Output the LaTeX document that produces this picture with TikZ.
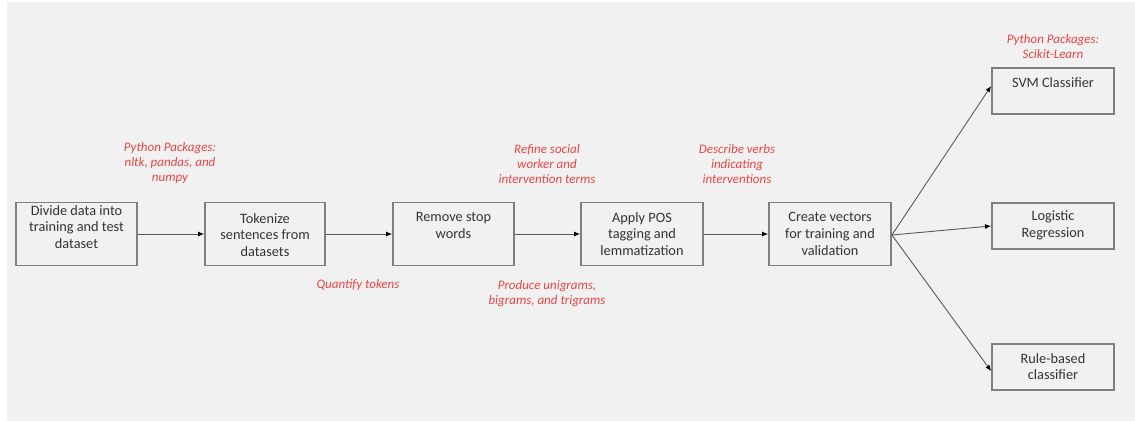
\documentclass[tikz,border=0pt]{standalone}
\usepackage{fontspec}
\setmainfont{Carlito}
\usetikzlibrary{arrows.meta}
\definecolor{bgc}{HTML}{F1F1F1}
\definecolor{boxc}{HTML}{7F7F7F}
\definecolor{linec}{HTML}{595959}
\definecolor{redc}{HTML}{E84545}
\tikzset{
  box/.style={draw=boxc, line width=1.8pt, fill=bgc, inner sep=0pt},
  boxtext/.style={align=center, font=\fontsize{14.3}{16.8}\selectfont, text=black!80, inner sep=0pt},
  note/.style={align=center, font=\fontsize{13}{15}\selectfont\itshape, text=redc, inner sep=0pt},
  conn/.style={draw=linec, line width=0.9pt, -{Latex[length=6pt,width=5pt,color=black]}}
}
\begin{document}
\begin{tikzpicture}[x=1pt,y=-1pt]
\useasboundingbox (0,0) rectangle (1135,421);
\fill[bgc] (7,2) rectangle (1135,421);
% boxes
\node[box, minimum width=121, minimum height=63] (b1) at (76.5,234) {};
\node[box, minimum width=120, minimum height=63] (b2) at (265,234) {};
\node[box, minimum width=121, minimum height=63] (b3) at (453.5,234) {};
\node[box, minimum width=122, minimum height=63] (b4) at (642,234) {};
\node[box, minimum width=122, minimum height=63] (b5) at (830,234) {};
\node[box, minimum width=122, minimum height=46] (svm) at (1053,91) {};
\node[box, minimum width=122, minimum height=46] (lr) at (1053,226) {};
\node[box, minimum width=122, minimum height=46] (rb) at (1053,367) {};
% box texts
\node[boxtext] (t1) at (76.5,227) {Divide data into\\training and test\\dataset};
\node[boxtext] (t2) at (265,235) {Tokenize\\sentences from\\datasets};
\node[boxtext] (t3) at (453.5,225.5) {Remove stop\\words};
\node[boxtext] (t4) at (642,234) {Apply POS\\tagging and\\lemmatization};
\node[boxtext] (t5) at (830,234) {Create vectors\\for training and\\validation};
\node[boxtext] (t6) at (1053,83) {SVM Classifier};
\node[boxtext] (t7) at (1053,225.5) {Logistic\\Regression};
\node[boxtext] (t8) at (1053,366.5) {Rule-based\\classifier};
% notes
\node[note] (n1) at (170,163.5) {Python Packages:\\nltk, pandas, and\\numpy};
\node[note] (n2) at (358,285) {Quantify tokens};
\node[note] (n3) at (547,164) {Refine social\\worker and\\intervention terms};
\node[note] (n4) at (547,293.5) {Produce unigrams,\\bigrams, and trigrams};
\node[note] (n5) at (737,164) {Describe verbs\\indicating\\interventions};
\node[note] (n6) at (1053,47) {Python Packages:\\Scikit-Learn};
% connectors
\draw[conn] (b1.east) -- (b2.west);
\draw[conn] (b2.east) -- (b3.west);
\draw[conn] (b3.east) -- (b4.west);
\draw[conn] (b4.east) -- (b5.west);
\draw[conn] ([yshift=-1pt]b5.east) -- ([yshift=5pt]svm.west);
\draw[conn] ([yshift=-1pt]b5.east) -- (lr.west);
\draw[conn] ([yshift=-1pt]b5.east) -- ([yshift=-4pt]rb.west);
\end{tikzpicture}
\end{document}
